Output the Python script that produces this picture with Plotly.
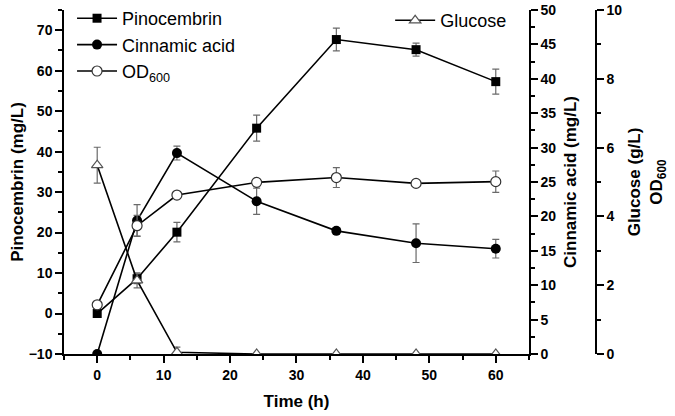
import plotly.graph_objects as go

time_h = [0, 6, 12, 24, 36, 48, 60]
pinocembrin = [0, 8.6, 20.1, 45.8, 67.7, 65.2, 57.3]
pinocembrin_err = [0.4, 1.2, 2.4, 3.2, 2.8, 1.6, 3.1]
cinnamic = [0, 19.4, 29.2, 22.2, 17.9, 16.1, 15.3]
cinnamic_err = [0.2, 2.3, 1.0, 1.9, 0.4, 2.8, 1.35]
glucose = [5.49, 2.14, 0.05, 0, 0, 0, 0]
glucose_err = [0.52, 0.22, 0.15, 0, 0, 0, 0]
od600 = [1.43, 3.73, 4.62, 4.99, 5.13, 4.96, 5.01]
od600_err = [0.05, 0.3, 0.05, 0.1, 0.29, 0.05, 0.31]

FONT = "Arial, Liberation Sans, sans-serif"
ERR = dict(type="data", color="#6a6a6a", thickness=1.2, width=3.5)
LINE = dict(color="black", width=1.6)

fig = go.Figure()
fig.add_trace(go.Scatter(
    x=time_h, y=pinocembrin, name="Pinocembrin", mode="lines+markers",
    line=LINE, marker=dict(symbol="square", size=9, color="black"),
    error_y=dict(array=pinocembrin_err, **ERR), yaxis="y", legend="legend"))
fig.add_trace(go.Scatter(
    x=time_h, y=cinnamic, name="Cinnamic acid", mode="lines+markers",
    line=LINE, marker=dict(symbol="circle", size=10, color="black"),
    error_y=dict(array=cinnamic_err, **ERR), yaxis="y2", legend="legend"))
fig.add_trace(go.Scatter(
    x=time_h, y=od600, name="OD<sub>600</sub>", mode="lines+markers",
    line=LINE, marker=dict(symbol="circle", size=10, color="white",
                           line=dict(color="#333333", width=1.2)),
    error_y=dict(array=od600_err, **ERR), yaxis="y3", legend="legend"))
fig.add_trace(go.Scatter(
    x=time_h, y=glucose, name="Glucose", mode="lines+markers",
    line=LINE, marker=dict(symbol="triangle-up", size=10, color="white",
                           line=dict(color="#555555", width=1.2)),
    error_y=dict(array=glucose_err, **ERR), yaxis="y3", legend="legend2"))

tickfont = dict(family=FONT, size=14, color="black", weight="bold")
titlefont = dict(family=FONT, size=17, color="black", weight="bold")
axis_common = dict(showline=True, linecolor="black", linewidth=1.5,
                   ticks="outside", ticklen=7, tickwidth=1.5, tickcolor="black",
                   showgrid=False, zeroline=False, tickfont=tickfont,
                   automargin=False, ticklabeloverflow="allow")
minor_common = dict(ticks="outside", ticklen=4, tickwidth=1.5, tickcolor="black")

XD = 0.8675
fig.update_layout(
    width=675, height=416,
    margin=dict(l=64, r=75, t=10, b=62, autoexpand=False),
    plot_bgcolor="white", paper_bgcolor="white",
    showlegend=True,
    xaxis=dict(domain=[0, XD], range=[-5, 65], dtick=10, tick0=0,
               minor=dict(dtick=5, **minor_common),
               title=dict(text="Time (h)", font=titlefont, standoff=14),
               **axis_common),
    yaxis=dict(range=[-10, 75], dtick=10, tick0=0,
               minor=dict(dtick=5, **minor_common),
               title=dict(text="Pinocembrin (mg/L)", font=titlefont, standoff=1),
               **axis_common),
    yaxis2=dict(range=[0, 50], dtick=5, overlaying="y", side="right", anchor="x",
                minor=dict(dtick=2.5, **minor_common),
                title=dict(text="Cinnamic acid (mg/L)", font=titlefont, standoff=9),
                **axis_common),
    yaxis3=dict(range=[0, 10], dtick=2, overlaying="y", side="right", anchor="free",
                position=0.9925,
                minor=dict(dtick=1, **minor_common),
                title=dict(text="Glucose (g/L)<br>OD<sub>600</sub>", font=titlefont, standoff=6),
                **axis_common),
    legend=dict(x=0.015, y=1.029, xanchor="left", yanchor="top",
                bgcolor="rgba(0,0,0,0)", font=dict(family=FONT, size=18, color="black"),
                tracegroupgap=0, itemwidth=40),
    legend2=dict(x=0.6085, y=1.023, xanchor="left", yanchor="top",
                 bgcolor="rgba(0,0,0,0)", font=dict(family=FONT, size=18, color="black"),
                 itemwidth=40),
)

# remove the browser's default 8px body margin so the figure fills the window
fig.write_html("out.html", config={"displayModeBar": False},
               post_script="document.body.style.margin='0';")
